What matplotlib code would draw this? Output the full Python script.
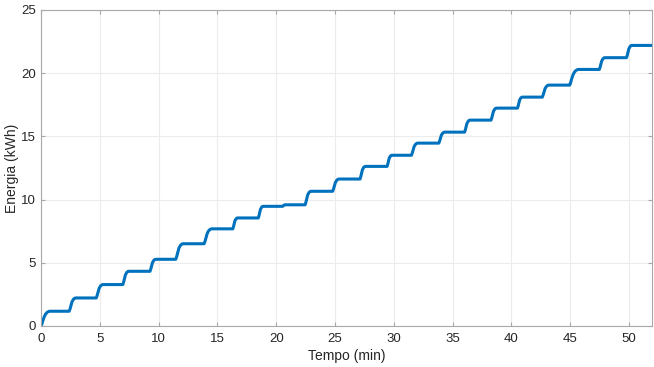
import matplotlib
matplotlib.use("Agg")
import matplotlib.pyplot as plt
from matplotlib.path import Path
from matplotlib.patches import PathPatch

plt.rcParams['font.family'] = ['Liberation Sans', 'DejaVu Sans']

# each charging step: time the rise starts, time it ends, energy level reached (kWh)
rise_start = [0.0, 2.40, 4.70, 6.96, 9.27, 11.46, 13.87, 16.31, 18.48, 20.55,
              22.46, 24.80, 27.13, 29.43, 31.50, 33.83, 36.02, 38.27, 40.52,
              42.63, 44.95, 47.48, 49.79]
rise_end = [0.78, 2.97, 5.28, 7.47, 9.77, 12.10, 14.54, 16.73, 18.90, 20.80,
            22.97, 25.36, 27.60, 29.85, 32.05, 34.34, 36.50, 38.75, 40.94,
            43.20, 45.73, 47.96, 50.26]
level = [1.16, 2.21, 3.27, 4.32, 5.27, 6.50, 7.68, 8.54, 9.46, 9.58,
         10.65, 11.62, 12.62, 13.50, 14.46, 15.33, 16.28, 17.23, 18.10,
         19.05, 20.29, 21.22, 22.19]
t_end = 52.0

# build the curve: flat segments joined by smooth rises (cubic Bezier)
verts = [(0.0, 0.0)]
codes = [Path.MOVETO]
prev = 0.0
for ts, te, lv in zip(rise_start, rise_end, level):
    d = te - ts
    dl = lv - prev
    verts.append((ts, prev)); codes.append(Path.LINETO)
    verts += [(ts + 0.2 * d, prev + 0.15 * dl), (ts + 0.3 * d, lv), (te, lv)]
    codes += [Path.CURVE4] * 3
    prev = lv
verts.append((t_end, prev)); codes.append(Path.LINETO)

fig = plt.figure(figsize=(6.54, 3.67), dpi=100)
ax = fig.add_axes([0.0627, 0.112, 0.935, 0.861])

ax.add_patch(PathPatch(Path(verts, codes), facecolor='none',
                       edgecolor='#0072BD', lw=2.2, capstyle='round',
                       joinstyle='round'))

ax.set_xlim(0, t_end)
ax.set_ylim(0, 25)
ax.set_xticks(range(0, 51, 5))
ax.set_yticks(range(0, 26, 5))
ax.grid(True, color='#ececec', lw=0.8)
ax.set_axisbelow(True)
for s in ax.spines.values():
    s.set_color('#a8a8a8')
    s.set_linewidth(0.8)
ax.tick_params(direction='in', length=3, color='#a8a8a8', labelcolor='#262626',
               labelsize=9.5, top=True, right=True)
ax.tick_params(axis='x', pad=5)
ax.set_xlabel('Tempo (min)', fontsize=10, color='#262626', labelpad=3)
ax.set_ylabel('Energia (kWh)', fontsize=10, color='#262626')
ax.yaxis.set_label_coords(-0.036, 0.5)

fig.savefig('out.png', dpi=100)
